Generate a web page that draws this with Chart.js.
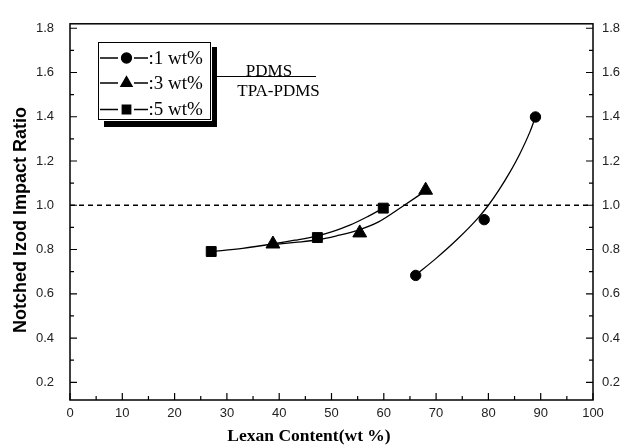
<!DOCTYPE html>
<html><head><meta charset="utf-8">
<script src="https://cdn.jsdelivr.net/npm/chart.js@4.4.0/dist/chart.umd.min.js"></script>
<style>html,body{margin:0;padding:0;background:#fff;} #wrap{width:620px;height:445px;position:relative;}</style>
</head><body><div id="wrap"><canvas id="c" width="620" height="445" style="width:620px;height:445px"></canvas></div>
<script>
// ---- data ----
const xTicks = [0,10,20,30,40,50,60,70,80,90,100];
const xMinorTicks = [5,15,25,35,45,55,65,75,85,95];
const yTicks = [0.2,0.4,0.6,0.8,1.0,1.2,1.4,1.6,1.8];
const yMinorTicks = [0.3,0.5,0.7,0.9,1.1,1.3,1.5,1.7];
const seriesLabels = [':1 wt%', ':3 wt%', ':5 wt%'];
const fractionTop = 'PDMS';
const fractionBottom = 'TPA-PDMS';
const xTitle = 'Lexan Content(wt %)';
const yTitle = 'Notched Izod Impact Ratio';

const lexan1 = [66.1, 79.2, 89.0];
const ratio1 = [0.683, 0.935, 1.399];
const lexan3 = [38.8, 55.4, 68.0];
const ratio3 = [0.825, 0.875, 1.068];
const lexan5 = [27.0, 47.3, 59.9];
const ratio5 = [0.791, 0.854, 0.987];

// fitted curves
const fit1X = [66.1, 70, 74, 78, 80, 82, 84, 86, 88, 89.0];
const fit1Y = [0.685, 0.76, 0.845, 0.942, 1.0, 1.068, 1.145, 1.232, 1.335, 1.399];
const fit3X = [38.8, 43, 47.2, 51, 55, 59, 63.7, 68.0];
const fit3Y = [0.822, 0.832, 0.843, 0.862, 0.887, 0.925, 0.997, 1.065];
const fit5X = [27.0, 33, 39, 43, 47.3, 50, 53.5, 57, 59.9];
const fit5Y = [0.79, 0.805, 0.826, 0.842, 0.862, 0.88, 0.91, 0.95, 0.987];

const refX = [0, 100];
const refY = [1.0, 1.0];

const pts = (xs, ys) => xs.map((x, i) => ({x, y: ys[i]}));

const curve = (xs, ys) => ({
  data: pts(xs, ys), showLine: true, borderColor: '#000', borderWidth: 1.3,
  pointRadius: 0, cubicInterpolationMode: 'monotone', fill: false, yAxisID: 'y'
});
const marks = (xs, ys, style, r) => ({
  data: pts(xs, ys), showLine: false, pointStyle: style, pointRadius: r,
  backgroundColor: '#000', borderColor: '#000', borderWidth: 1, yAxisID: 'y'
});

const markerStyles = [['circle', 5], ['triangle', 6.5], ['rect', 6]];

const paperPlugin = {
  id: 'paper',
  afterDatasetsDraw(chart) {
    const ctx = chart.ctx, a = chart.chartArea;
    const xs = chart.scales.x, ys = chart.scales.y;
    ctx.save();
    ctx.strokeStyle = '#000';
    ctx.lineWidth = 1.5;
    ctx.strokeRect(a.left, a.top, a.right - a.left, a.bottom - a.top);
    ctx.lineWidth = 1.2;
    ctx.beginPath();
    const tick = (vals, len) => {
      vals.forEach(v => {
        const px = xs.getPixelForValue(v);
        ctx.moveTo(px, a.bottom); ctx.lineTo(px, a.bottom - len);
      });
    };
    const ytick = (vals, len) => {
      vals.forEach(v => {
        const py = ys.getPixelForValue(v);
        ctx.moveTo(a.left, py); ctx.lineTo(a.left + len, py);
        ctx.moveTo(a.right, py); ctx.lineTo(a.right - len, py);
      });
    };
    tick(xTicks, 7); tick(xMinorTicks, 4);
    ytick(yTicks, 7); ytick(yMinorTicks, 4);
    ctx.stroke();
    ctx.restore();
  },
  afterDraw(chart) {
    const ctx = chart.ctx;
    ctx.save();
    // axis titles
    ctx.fillStyle = '#000';
    ctx.textAlign = 'center';
    ctx.textBaseline = 'middle';
    ctx.font = 'bold 17.5px "Liberation Serif", "Times New Roman", serif';
    ctx.fillText(xTitle, 309, 436);
    ctx.save();
    ctx.translate(21, 220);
    ctx.rotate(-Math.PI / 2);
    ctx.font = 'bold 18px "Liberation Sans", Arial, sans-serif';
    ctx.fillText(yTitle, 0, 0);
    ctx.restore();

    // legend box with shadow
    ctx.fillStyle = '#000';
    ctx.fillRect(104, 47, 113, 80);
    ctx.fillStyle = '#fff';
    ctx.fillRect(98, 42, 114, 79);
    ctx.strokeStyle = '#000';
    ctx.lineWidth = 1;
    ctx.strokeRect(98.5, 42.5, 112, 77);
    const rowY = [58, 83, 109.5];
    ctx.font = '19px "Liberation Serif", "Times New Roman", serif';
    ctx.textAlign = 'left';
    ctx.textBaseline = 'alphabetic';
    rowY.forEach((y, i) => {
      ctx.strokeStyle = '#000'; ctx.lineWidth = 1.3;
      ctx.beginPath();
      ctx.moveTo(100, y); ctx.lineTo(118, y);
      ctx.moveTo(134, y); ctx.lineTo(148, y);
      ctx.stroke();
      ctx.fillStyle = '#000';
      Chart.helpers.drawPoint(ctx, {pointStyle: markerStyles[i][0], radius: markerStyles[i][1], rotation: 0, borderWidth: 1}, 126.5, y);
      ctx.fillText(seriesLabels[i], 148.5, y + 5.5);
    });

    // fraction PDMS / TPA-PDMS
    ctx.strokeStyle = '#000'; ctx.lineWidth = 1.2;
    ctx.beginPath(); ctx.moveTo(217, 76.5); ctx.lineTo(316, 76.5); ctx.stroke();
    ctx.font = '17px "Liberation Serif", "Times New Roman", serif';
    ctx.textAlign = 'center';
    ctx.fillText(fractionTop, 269, 76);
    ctx.fillText(fractionBottom, 278.5, 95.5);
    ctx.restore();
  }
};

const tickFont = {family: '"Liberation Sans", Arial, sans-serif', size: 13};
const yAxis = (pos, width, pad) => ({
  type: 'linear', position: pos, min: 0.12, max: 1.82,
  afterBuildTicks: s => { s.ticks = yTicks.map(v => ({value: v})); },
  afterFit: s => { s.width = width; },
  grid: {display: false, drawTicks: false}, border: {display: false},
  ticks: {padding: pad, font: tickFont, color: '#222', callback: v => Number(v).toFixed(1)}
});

new Chart(document.getElementById('c'), {
  type: 'scatter',
  data: {
    datasets: [
      {data: pts(refX, refY), showLine: true, borderColor: '#000', borderWidth: 1.3,
       borderDash: [5, 4], pointRadius: 0, yAxisID: 'y'},
      curve(fit1X, fit1Y), curve(fit3X, fit3Y), curve(fit5X, fit5Y),
      marks(lexan1, ratio1, 'circle', 5.2),
      marks(lexan3, ratio3, 'triangle', 8),
      marks(lexan5, ratio5, 'rect', 7)
    ]
  },
  options: {
    responsive: false, animation: false, devicePixelRatio: 1,
    layout: {padding: {top: 16, left: 0, right: 0, bottom: 0}},
    plugins: {legend: {display: false}, tooltip: {enabled: false}},
    scales: {
      x: {
        type: 'linear', position: 'bottom', min: 0, max: 100,
        afterBuildTicks: s => { s.ticks = xTicks.map(v => ({value: v})); },
        afterFit: s => { s.height = 45; },
        grid: {display: false, drawTicks: false}, border: {display: false},
        ticks: {padding: 6, font: tickFont, color: '#222', maxRotation: 0, callback: v => String(v)}
      },
      y: yAxis('left', 70, 16),
      y2: yAxis('right', 27, 9)
    }
  },
  plugins: [paperPlugin]
});
</script>
</body></html>
